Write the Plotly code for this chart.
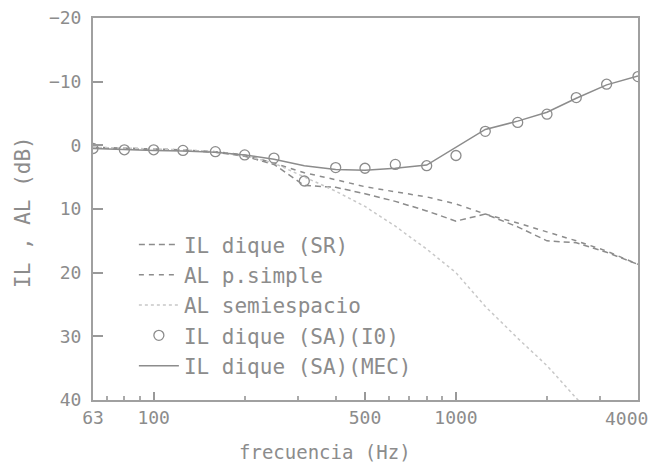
import plotly.graph_objects as go

freq = [63, 80, 100, 125, 160, 200, 250, 315, 400, 500, 630, 800, 1000,
        1250, 1600, 2000, 2500, 3150, 4000]

il_sr = [0.4, 0.5, 0.6, 0.8, 1.1, 1.7, 3.0, 6.3, 6.6, 7.6, 8.8, 10.3, 11.9,
         10.8, 12.8, 15.0, 15.3, 16.8, 18.7]
al_psimple = [0.3, 0.4, 0.5, 0.7, 1.0, 1.5, 2.8, 4.3, 5.4, 6.5, 7.3, 8.1, 9.2,
              10.8, 12.2, 13.6, 15.0, 16.6, 18.7]
al_semi = [0.3, 0.4, 0.5, 0.7, 1.0, 1.6, 2.8, 5.0, 7.2, 9.6, 12.7, 16.3, 20.0,
           25.3, 30.3, 34.6, 39.8, 45.0, 50.0]
il_sa_io = [0.5, 0.7, 0.7, 0.8, 1.0, 1.5, 2.0, 5.6, 3.5, 3.6, 3.0, 3.2, 1.6,
            -2.2, -3.6, -4.9, -7.5, -9.6, -10.8]
il_sa_mec = [0.5, 0.7, 0.8, 0.9, 1.1, 1.5, 2.2, 3.2, 3.8, 3.9, 3.6, 3.1, 0.3,
             -2.5, -3.8, -5.2, -7.4, -9.5, -10.9]

x_ticks = [63, 100, 500, 1000, 4000]
x_tick_text = ["63", "100", "500", "1000", ""]
x_last_label = "4000"
x_minor = [70, 80, 90, 200, 300, 400, 600, 700, 800, 900, 2000, 3000]
y_ticks = [-20, -10, 0, 10, 20, 30, 40]

GRAY = "#8c8c8c"
FONT = "DejaVu Sans Mono"

fig = go.Figure()
fig.add_trace(go.Scatter(x=freq, y=il_sr, mode="lines", name="IL dique (SR)",
                         line=dict(color=GRAY, width=1.5, dash="6px,4px")))
fig.add_trace(go.Scatter(x=freq, y=al_psimple, mode="lines", name="AL p.simple",
                         line=dict(color=GRAY, width=1.5, dash="5px,5px")))
fig.add_trace(go.Scatter(x=freq, y=al_semi, mode="lines", name="AL semiespacio",
                         line=dict(color="#c8c8c8", width=1.5, dash="dot")))
fig.add_trace(go.Scatter(x=freq, y=il_sa_io, mode="markers", name="IL dique (SA)(I0)",
                         marker=dict(symbol="circle-open", size=10, color=GRAY,
                                     line=dict(width=1.3, color=GRAY))))
fig.add_trace(go.Scatter(x=freq, y=il_sa_mec, mode="lines", name="IL dique (SA)(MEC)",
                         line=dict(color=GRAY, width=1.5)))

fig.update_layout(
    width=651, height=470,
    margin=dict(l=93, r=13, t=18, b=70),
    paper_bgcolor="white", plot_bgcolor="white",
    font=dict(family=FONT, color=GRAY, size=18),
    showlegend=True,
    legend=dict(x=0.075, y=0.46, xanchor="left", yanchor="top",
                bgcolor="rgba(0,0,0,0)", borderwidth=0,
                font=dict(family=FONT, size=21, color=GRAY),
                tracegroupgap=0, itemwidth=40),
    xaxis=dict(type="log", range=[1.7993, 3.6021], automargin=False,
               tickvals=x_ticks, ticktext=x_tick_text,
               ticks="inside", ticklen=8, tickcolor="#999", tickwidth=1.5,
               showline=True, linecolor="#a0a0a0", linewidth=2, mirror=True,
               showgrid=False, zeroline=False,
               tickfont=dict(family=FONT, size=18, color=GRAY),
               minor=dict(tickvals=x_minor, ticks="inside", ticklen=4,
                          tickcolor="#aaa", showgrid=False)),
    yaxis=dict(range=[40, -20], tickvals=y_ticks, automargin=False,
               ticklabeloverflow="allow",
               ticks="inside", ticklen=10, tickcolor="#999", tickwidth=1.5,
               showline=True, linecolor="#a0a0a0", linewidth=2, mirror=True,
               showgrid=False, zeroline=False, ticklabelstandoff=6,
               tickfont=dict(family=FONT, size=18, color=GRAY)),
    annotations=[
        dict(text=x_last_label, xref="paper", yref="paper",
             x=(650 - 93) / 545, y=-(418 - 400) / 382, xanchor="right",
             yanchor="middle", showarrow=False,
             font=dict(family=FONT, size=18, color=GRAY)),
        dict(text="frecuencia (Hz)", xref="paper", yref="paper",
             x=(325 - 93) / 545, y=-(452 - 400) / 382, xanchor="center",
             yanchor="middle", showarrow=False,
             font=dict(family=FONT, size=19, color=GRAY)),
        dict(text="IL , AL (dB)", xref="paper", yref="paper",
             x=(23 - 93) / 545, y=(400 - 212) / 382, xanchor="center",
             yanchor="middle", showarrow=False, textangle=-90,
             font=dict(family=FONT, size=21, color=GRAY)),
    ],
)

fig.write_html("out.html",
               config={"displayModeBar": False},
               post_script="document.body.style.margin='0';document.body.style.overflow='hidden';")
